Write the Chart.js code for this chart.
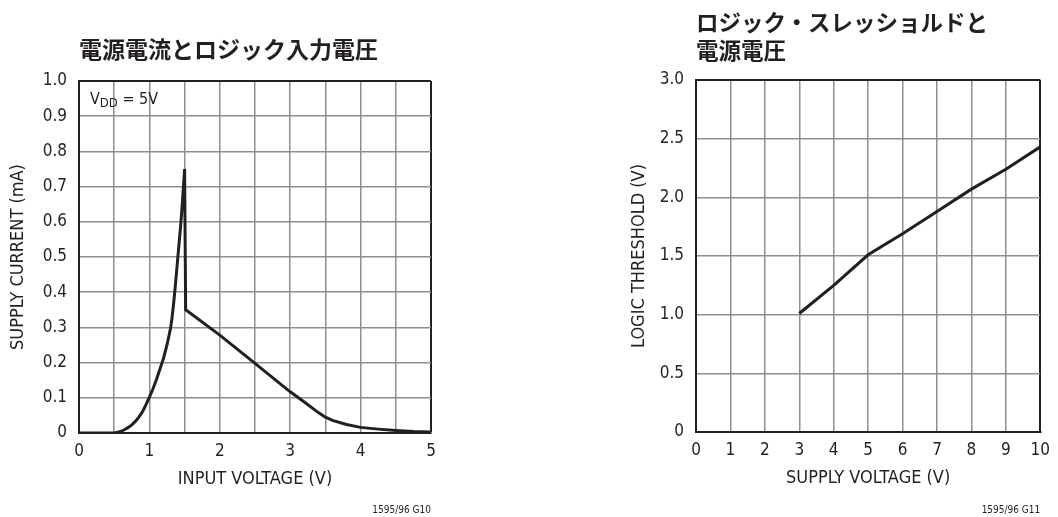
<!DOCTYPE html>
<html>
<head>
<meta charset="utf-8">
<script src="https://cdn.jsdelivr.net/npm/chart.js@4/dist/chart.umd.min.js"></script>
<style>
  html, body { margin: 0; padding: 0; background: #fff; }
  body { width: 1058px; height: 517px; position: relative; overflow: hidden; }
  .panel { position: absolute; top: 0; height: 517px; }
  #left { left: 0; width: 480px; }
  #right { left: 620px; width: 438px; }
</style>
</head>
<body>
<div class="panel" id="left"><canvas id="currentChart"></canvas></div>
<div class="panel" id="right"><canvas id="thresholdChart"></canvas></div>
<script>
// Supply current vs. logic input voltage (VDD = 5V)
const inputVoltage = [0, 0.5, 0.55, 0.6, 0.65, 0.7, 0.75, 0.8, 0.85, 0.9, 0.95, 1.0, 1.05, 1.1, 1.15, 1.2,
  1.25, 1.3, 1.32, 1.34, 1.36, 1.38, 1.4, 1.42, 1.44, 1.46, 1.48, 1.5, 1.515, 2.0, 2.5, 3.0, 3.2, 3.4,
  3.5, 3.6, 3.8, 4.0, 4.25, 4.5, 4.75, 5.0];
const supplyCurrent = [0, 0, 0.002, 0.005, 0.01, 0.016, 0.023, 0.033, 0.045, 0.06, 0.08, 0.102, 0.125,
  0.152, 0.182, 0.212, 0.25, 0.297, 0.325, 0.36, 0.4, 0.445, 0.49, 0.535, 0.58, 0.63, 0.69, 0.75, 0.35,
  0.278, 0.198, 0.117, 0.088, 0.058, 0.045, 0.036, 0.024, 0.016, 0.011, 0.007, 0.004, 0.003];
const currentTickLabels = ['0', '0.1', '0.2', '0.3', '0.4', '0.5', '0.6', '0.7', '0.8', '0.9', '1.0'];
const inputTickLabels = ['0', '1', '2', '3', '4', '5'];

// Logic threshold vs. supply voltage
const supplyVoltage = [3, 4, 5, 6, 7, 8, 9, 10];
const logicThreshold = [1.01, 1.25, 1.51, 1.69, 1.88, 2.07, 2.24, 2.43];
const thresholdTickLabels = ['0', '0.5', '1.0', '1.5', '2.0', '2.5', '3.0'];
const supplyTickLabels = ['0', '1', '2', '3', '4', '5', '6', '7', '8', '9', '10'];

const INK = '#231f20';
const GRID = '#8e8e8e';
const NARROW = "'Liberation Sans Narrow', 'DejaVu Sans Condensed', 'Liberation Sans', sans-serif";
const CJK = "'Noto Sans CJK JP', 'Noto Sans', sans-serif";

Chart.defaults.color = INK;
Chart.defaults.font.family = NARROW;

// Small figure number in the lower right corner under the plot
const footnotePlugin = {
  id: 'footnote',
  afterDraw(chart, args, opts) {
    const ctx = chart.ctx;
    ctx.save();
    ctx.font = `10px ${NARROW}`;
    ctx.fillStyle = INK;
    ctx.textAlign = 'right';
    ctx.textBaseline = 'middle';
    ctx.fillText(opts.text, chart.chartArea.right, 510);
    ctx.restore();
  }
};
Chart.register(footnotePlugin);

// Gridlines at the far edges of the plot are drawn dark so they close the frame
function gridStyle(max) {
  return {
    color: (c) => (c.tick && Math.abs(c.tick.value - max) < 1e-9) ? INK : GRID,
    lineWidth: (c) => (c.tick && Math.abs(c.tick.value - max) < 1e-9) ? 2 : 1.5,
    drawTicks: false
  };
}

function axisTitle(text, padding) {
  return { display: true, text, color: INK, font: { size: 18, family: NARROW }, padding };
}

// "VDD = 5V" condition label with subscript
const conditionPlugin = {
  id: 'condition',
  afterDatasetsDraw(chart) {
    const ctx = chart.ctx;
    const x0 = chart.chartArea.left + 11;
    const base = chart.chartArea.top + 23;
    ctx.save();
    ctx.fillStyle = INK;
    ctx.textBaseline = 'alphabetic';
    ctx.textAlign = 'left';
    ctx.font = `16px ${NARROW}`;
    ctx.fillText('V', x0, base);
    let x = x0 + ctx.measureText('V').width;
    ctx.font = `13px ${NARROW}`;
    ctx.fillText('DD', x, base + 3);
    x += ctx.measureText('DD').width;
    ctx.font = `16px ${NARROW}`;
    ctx.fillText(' = 5V', x, base);
    ctx.restore();
  }
};

new Chart(document.getElementById('currentChart'), {
  type: 'line',
  data: {
    datasets: [{
      data: inputVoltage.map((v, i) => ({ x: v, y: supplyCurrent[i] })),
      borderColor: INK,
      borderWidth: 3,
      pointRadius: 0,
      tension: 0,
      fill: false
    }]
  },
  plugins: [conditionPlugin],
  options: {
    responsive: true,
    maintainAspectRatio: false,
    animation: false,
    layout: { padding: { top: 0, left: 0, right: 49, bottom: 0 } },
    plugins: {
      legend: { display: false },
      tooltip: { enabled: false },
      title: {
        display: true,
        text: '電源電流とロジック入力電圧',
        align: 'start',
        fullSize: false,
        color: INK,
        font: { family: CJK, size: 23, weight: 'bold', lineHeight: 1.2 },
        padding: { top: 35.5, bottom: 17.9 }
      },
      footnote: { text: '1595/96 G10' }
    },
    scales: {
      x: {
        type: 'linear',
        min: 0, max: 5,
        afterFit: (s) => { s.height = 84; },
        ticks: {
          stepSize: 0.5,
          padding: 8,
          autoSkip: false,
          maxRotation: 0,
          font: { size: 17 },
          callback: (v, i) => (i % 2 === 0 ? inputTickLabels[i / 2] : '')
        },
        grid: gridStyle(5),
        border: { color: INK, width: 2 },
        title: axisTitle('INPUT VOLTAGE (V)', { top: 0, bottom: 27 })
      },
      y: {
        min: 0, max: 1,
        afterFit: (s) => { s.width = 79; },
        ticks: {
          stepSize: 0.1,
          padding: 12,
          autoSkip: false,
          font: { size: 17 },
          callback: (v, i) => currentTickLabels[i]
        },
        grid: gridStyle(1),
        border: { color: INK, width: 2 },
        title: axisTitle('SUPPLY CURRENT (mA)', { top: 8, bottom: 0 })
      }
    }
  }
});

new Chart(document.getElementById('thresholdChart'), {
  type: 'line',
  data: {
    datasets: [{
      data: supplyVoltage.map((v, i) => ({ x: v, y: logicThreshold[i] })),
      borderColor: INK,
      borderWidth: 3,
      pointRadius: 0,
      tension: 0,
      fill: false
    }]
  },
  options: {
    responsive: true,
    maintainAspectRatio: false,
    animation: false,
    layout: { padding: { top: 0, left: 0, right: 11, bottom: 0 } },
    plugins: {
      legend: { display: false },
      tooltip: { enabled: false },
      title: {
        display: true,
        text: ['ロジック・スレッショルドと', '電源電圧'],
        align: 'start',
        fullSize: false,
        color: INK,
        font: { family: CJK, size: 22.5, weight: 'bold', lineHeight: 28 / 22.5 },
        padding: { top: 8, bottom: 16 }
      },
      footnote: { text: '1595/96 G11' }
    },
    scales: {
      x: {
        type: 'linear',
        min: 0, max: 10,
        afterFit: (s) => { s.height = 85; },
        ticks: {
          stepSize: 1,
          padding: 8,
          autoSkip: false,
          maxRotation: 0,
          font: { size: 17 },
          callback: (v, i) => supplyTickLabels[i]
        },
        grid: gridStyle(10),
        border: { color: INK, width: 2 },
        title: axisTitle('SUPPLY VOLTAGE (V)', { top: 0, bottom: 28 })
      },
      y: {
        min: 0, max: 3,
        afterFit: (s) => { s.width = 76; },
        ticks: {
          stepSize: 0.5,
          padding: 12,
          autoSkip: false,
          font: { size: 17 },
          callback: (v, i) => thresholdTickLabels[i]
        },
        grid: gridStyle(3),
        border: { color: INK, width: 2 },
        title: axisTitle('LOGIC THRESHOLD (V)', { top: 9, bottom: 0 })
      }
    }
  }
});
</script>
</body>
</html>
